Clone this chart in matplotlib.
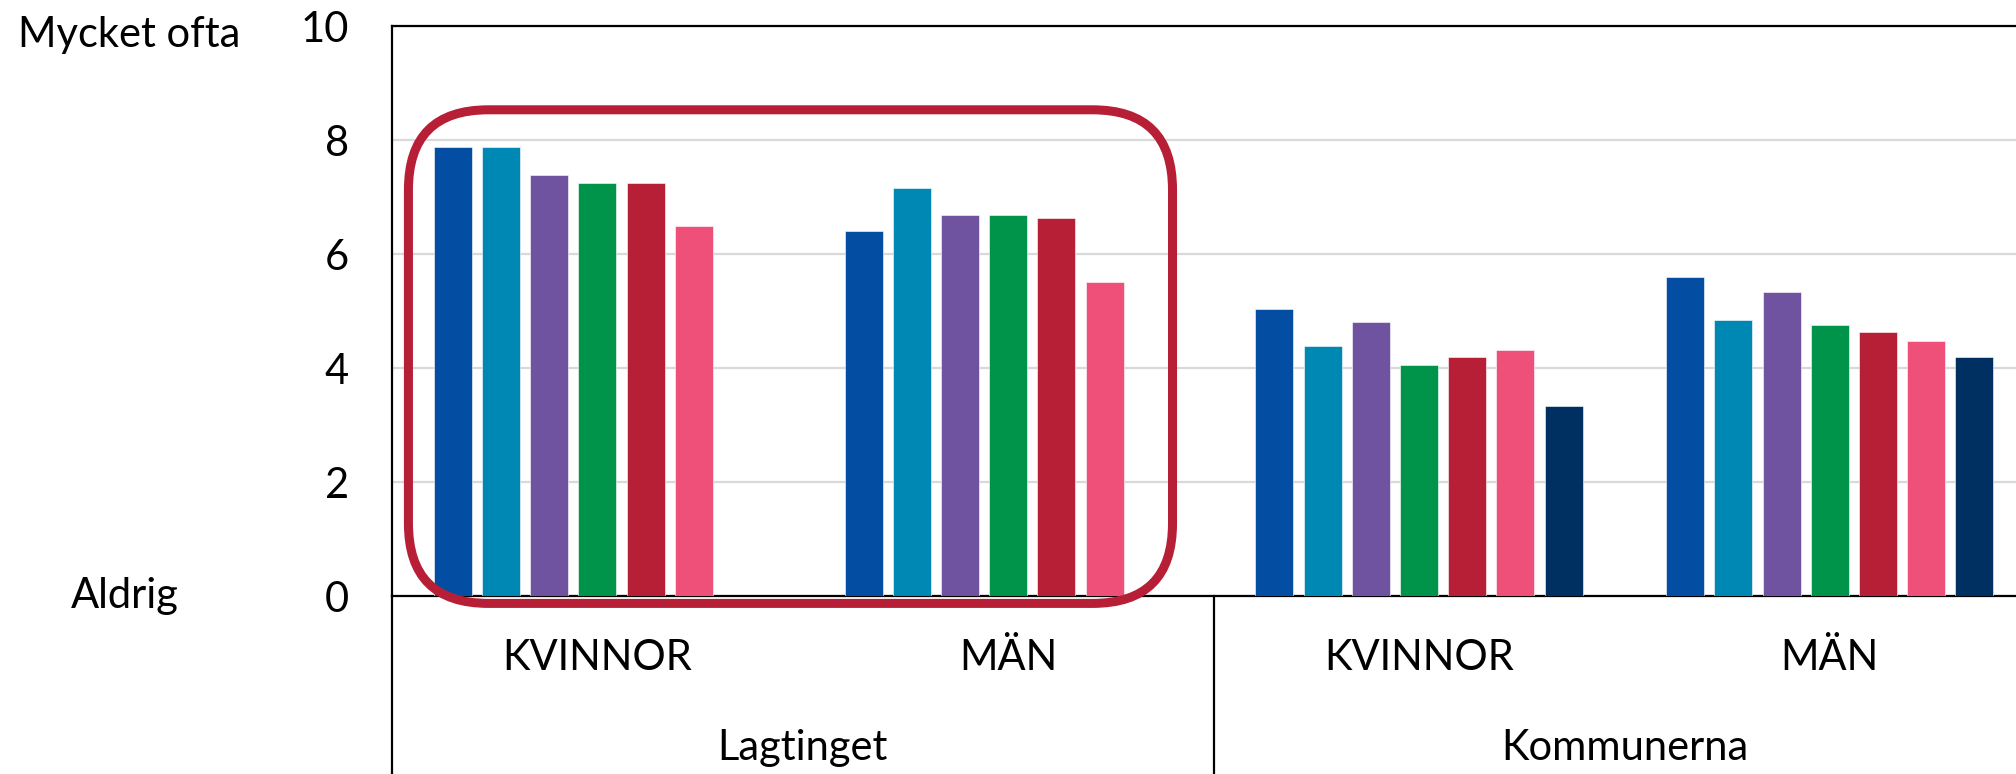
import numpy as np
import matplotlib
matplotlib.use("Agg")
import matplotlib.pyplot as plt
from matplotlib.patches import FancyBboxPatch
from matplotlib.transforms import IdentityTransform, blended_transform_factory

plt.rcParams["font.family"] = ["Lato", "DejaVu Sans"]

# --- data ---
categories = ["KVINNOR", "MÄN", "KVINNOR", "MÄN"]
groups = ["Lagtinget", "Kommunerna"]
series_1 = [7.87, 6.41, 5.04, 5.60]
series_2 = [7.87, 7.15, 4.39, 4.84]
series_3 = [7.38, 6.68, 4.80, 5.34]
series_4 = [7.24, 6.68, 4.05, 4.75]
series_5 = [7.24, 6.64, 4.19, 4.63]
series_6 = [6.50, 5.51, 4.32, 4.48]
series_7 = [np.nan, np.nan, 3.34, 4.19]
yticks = [0, 2, 4, 6, 8, 10]
scale_top = "Mycket ofta"
scale_bottom = "Aldrig"

series = [series_1, series_2, series_3, series_4, series_5, series_6, series_7]
colors = ["#034EA2", "#0088B5", "#6F52A0", "#00934A", "#B71F36", "#EE507A", "#002F62"]
FS = 30

W, H = 2016, 774
fig = plt.figure(figsize=(W / 100, H / 100), dpi=100)
ax = fig.add_axes([392 / W, (H - 596) / H, 4 * 410.8 / W, 570 / H])

x = np.arange(len(categories)) + 0.5
slot = 0.1173
width = 0.0925
n = len(series)
for i, (vals, c) in enumerate(zip(series, colors)):
    ax.bar(x + (i - (n - 1) / 2) * slot, vals, width=width, color=c,
           edgecolor="white", linewidth=0.4, zorder=3)

ax.set_xlim(0, len(categories))
ax.set_ylim(0, 10)
ax.set_yticks(yticks)
ax.set_yticklabels([str(t) for t in yticks], fontsize=FS)
ax.tick_params(axis="y", length=0, pad=31)
ax.set_xticks([])
ax.yaxis.grid(True, color="#D9D9D9", linewidth=1.6, zorder=0)
ax.set_axisbelow(True)
for side in ["left", "bottom", "top"]:
    ax.spines[side].set_color("black")
    ax.spines[side].set_linewidth(1.6)
ax.spines["right"].set_visible(False)

# scale-end captions next to the y axis
lab_tr = blended_transform_factory(fig.transFigure, ax.transData)
ax.text(129 / W, 9.85, scale_top, transform=lab_tr, ha="center", va="center",
        fontsize=FS, clip_on=False)
ax.text(125 / W, 0, scale_bottom, transform=lab_tr, ha="center", va="center",
        fontsize=FS, clip_on=False)

# two-level category axis below the plot
xt = ax.get_xaxis_transform()
for xc, lab in zip(x, categories):
    ax.text(xc, -0.109, lab, transform=xt, ha="center", va="center",
            fontsize=FS, clip_on=False)
for gi, g in enumerate(groups):
    ax.text(2 * gi + 1, -0.267, g, transform=xt, ha="center", va="center",
            fontsize=FS, clip_on=False)
for xv in [0, 2, 4]:
    ax.plot([xv, xv], [0, -0.32], transform=xt, color="black",
            linewidth=1.6, clip_on=False)

# rounded highlight around the Lagtinget bars
(px0, py0) = ax.transData.transform((0.04, -0.13))
(px1, py1) = ax.transData.transform((1.90, 8.53))
box = FancyBboxPatch((px0, py0), px1 - px0, py1 - py0,
                     boxstyle="round,pad=0,rounding_size=80",
                     transform=IdentityTransform(), facecolor="none",
                     edgecolor="#B71F36", linewidth=6.5, zorder=5)
fig.add_artist(box)

fig.savefig("out.png", dpi=100)
